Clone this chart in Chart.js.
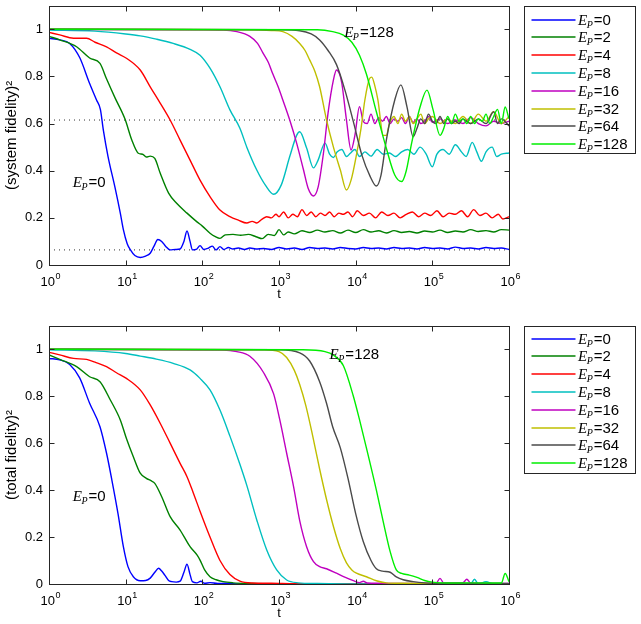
<!DOCTYPE html>
<html>
<head>
<meta charset="utf-8">
<script src="https://cdn.jsdelivr.net/npm/chart.js@4.4.1/dist/chart.umd.min.js"></script>
<style>
  html, body { margin: 0; padding: 0; background: #fff; }
  #wrap { position: relative; width: 641px; height: 624px; }
  canvas { position: absolute; left: 0; }
</style>
</head>
<body>
<div id="wrap">
  <canvas id="sys" width="641" height="312" style="top:0"></canvas>
  <canvas id="tot" width="641" height="312" style="top:312px"></canvas>
</div>
<script>
// values; each point is [log10(t), fidelity^2]
const epValues = [0, 2, 4, 8, 16, 32, 64, 128];
const xTicks = [1, 10, 100, 1e3, 1e4, 1e5, 1e6];
const yTicks = [0, 0.2, 0.4, 0.6, 0.8, 1];
const sysLevels = [0.615, 0.064];

const sysEp0 = [[0,0.962],[0.14,0.955],[0.27,0.94],[0.4,0.88],[0.53,0.77],[0.62,0.7],[0.67,0.66],[0.71,0.57],[0.77,0.46],[0.86,0.33],[0.93,0.22],[0.97,0.15],[1.02,0.09],[1.06,0.065],[1.12,0.04],[1.19,0.032],[1.26,0.038],[1.32,0.05],[1.37,0.08],[1.42,0.108],[1.47,0.1],[1.52,0.08],[1.58,0.064],[1.65,0.066],[1.71,0.068],[1.76,0.1],[1.8,0.144],[1.84,0.1],[1.87,0.064],[1.92,0.066],[1.97,0.082],[2.02,0.066],[2.08,0.072],[2.13,0.08],[2.18,0.064],[2.23,0.078],[2.28,0.066],[2.34,0.074],[2.4,0.068],[2.47,0.072],[2.55,0.066],[2.62,0.072],[2.7,0.068],[2.8,0.07],[2.9,0.066],[3,0.074],[3.1,0.068],[3.2,0.072],[3.3,0.066],[3.4,0.074],[3.5,0.07],[3.6,0.072],[3.7,0.068],[3.8,0.074],[3.9,0.07],[4,0.068],[4.1,0.074],[4.2,0.07],[4.3,0.072],[4.4,0.068],[4.5,0.074],[4.6,0.07],[4.7,0.072],[4.8,0.068],[4.9,0.074],[5,0.07],[5.1,0.072],[5.2,0.068],[5.3,0.076],[5.4,0.07],[5.5,0.072],[5.6,0.068],[5.7,0.074],[5.8,0.07],[5.9,0.072],[6,0.066]];
const sysEp2 = [[0,0.97],[0.14,0.955],[0.36,0.926],[0.53,0.878],[0.665,0.855],[0.75,0.79],[0.86,0.71],[0.99,0.62],[1.08,0.53],[1.165,0.474],[1.22,0.47],[1.27,0.458],[1.32,0.462],[1.38,0.452],[1.45,0.39],[1.56,0.305],[1.665,0.262],[1.8,0.22],[1.93,0.183],[2,0.165],[2.1,0.135],[2.17,0.12],[2.23,0.113],[2.3,0.128],[2.4,0.13],[2.5,0.126],[2.6,0.13],[2.7,0.12],[2.78,0.112],[2.86,0.13],[2.94,0.125],[3,0.15],[3.06,0.128],[3.12,0.14],[3.2,0.132],[3.3,0.145],[3.4,0.138],[3.5,0.148],[3.6,0.14],[3.7,0.146],[3.8,0.136],[3.9,0.148],[4,0.138],[4.1,0.15],[4.2,0.14],[4.3,0.145],[4.4,0.136],[4.5,0.146],[4.6,0.138],[4.7,0.142],[4.8,0.136],[4.9,0.144],[5,0.14],[5.1,0.148],[5.2,0.138],[5.3,0.144],[5.4,0.14],[5.5,0.15],[5.6,0.142],[5.7,0.146],[5.8,0.14],[5.9,0.15],[6,0.148]];
const sysEp4 = [[0,0.987],[0.14,0.976],[0.32,0.962],[0.49,0.962],[0.6,0.945],[0.75,0.925],[0.88,0.9],[1.01,0.877],[1.19,0.827],[1.32,0.756],[1.45,0.687],[1.58,0.615],[1.71,0.53],[1.84,0.445],[1.97,0.36],[2.1,0.29],[2.23,0.233],[2.36,0.205],[2.47,0.19],[2.58,0.178],[2.65,0.185],[2.71,0.178],[2.78,0.195],[2.84,0.205],[2.9,0.2],[2.96,0.215],[3,0.205],[3.06,0.225],[3.12,0.2],[3.18,0.215],[3.24,0.205],[3.3,0.235],[3.36,0.21],[3.42,0.225],[3.48,0.205],[3.54,0.22],[3.6,0.21],[3.66,0.225],[3.72,0.205],[3.78,0.22],[3.84,0.215],[3.9,0.225],[3.96,0.205],[4.02,0.23],[4.1,0.21],[4.18,0.22],[4.26,0.2],[4.34,0.225],[4.42,0.21],[4.5,0.22],[4.58,0.2],[4.66,0.215],[4.74,0.225],[4.82,0.205],[4.9,0.22],[4.98,0.21],[5.06,0.23],[5.14,0.205],[5.22,0.22],[5.3,0.215],[5.38,0.23],[5.46,0.205],[5.54,0.235],[5.62,0.21],[5.7,0.22],[5.78,0.2],[5.86,0.215],[5.92,0.195],[6,0.205]];
const sysEp8 = [[0,0.997],[0.6,0.992],[1,0.98],[1.19,0.972],[1.4,0.958],[1.62,0.94],[1.84,0.915],[1.97,0.89],[2.1,0.835],[2.23,0.756],[2.36,0.658],[2.49,0.58],[2.58,0.5],[2.71,0.403],[2.82,0.34],[2.93,0.3],[3.03,0.34],[3.14,0.46],[3.23,0.55],[3.27,0.565],[3.36,0.496],[3.45,0.412],[3.51,0.445],[3.6,0.517],[3.66,0.47],[3.71,0.456],[3.76,0.48],[3.82,0.49],[3.88,0.46],[3.93,0.474],[3.99,0.49],[4.05,0.46],[4.12,0.48],[4.2,0.462],[4.28,0.49],[4.36,0.47],[4.44,0.475],[4.52,0.46],[4.6,0.48],[4.68,0.49],[4.76,0.47],[4.84,0.5],[4.92,0.47],[5,0.417],[5.06,0.47],[5.14,0.49],[5.22,0.47],[5.3,0.51],[5.38,0.48],[5.44,0.46],[5.52,0.52],[5.58,0.48],[5.64,0.44],[5.7,0.48],[5.78,0.5],[5.84,0.46],[5.9,0.47],[6,0.475]];
const sysEp16 = [[0,1],[2,0.998],[2.27,0.997],[2.45,0.99],[2.62,0.97],[2.72,0.94],[2.79,0.9],[2.86,0.86],[2.92,0.81],[2.99,0.755],[3.05,0.7],[3.14,0.615],[3.23,0.517],[3.32,0.403],[3.38,0.326],[3.45,0.293],[3.51,0.33],[3.58,0.475],[3.64,0.645],[3.71,0.785],[3.75,0.827],[3.79,0.81],[3.82,0.77],[3.88,0.615],[3.94,0.488],[3.99,0.55],[4.05,0.672],[4.1,0.608],[4.15,0.6],[4.2,0.64],[4.25,0.6],[4.3,0.625],[4.35,0.61],[4.4,0.63],[4.45,0.6],[4.5,0.62],[4.55,0.61],[4.6,0.625],[4.65,0.6],[4.7,0.63],[4.75,0.605],[4.8,0.62],[4.85,0.6],[4.9,0.61],[4.95,0.63],[5,0.605],[5.1,0.62],[5.2,0.6],[5.3,0.615],[5.4,0.6],[5.5,0.625],[5.6,0.6],[5.7,0.59],[5.8,0.61],[5.9,0.6],[6,0.61]];
const sysEp32 = [[0,1],[2.6,0.998],[2.9,0.995],[3.05,0.99],[3.17,0.97],[3.27,0.94],[3.34,0.91],[3.4,0.87],[3.47,0.82],[3.53,0.756],[3.62,0.615],[3.71,0.5],[3.8,0.403],[3.88,0.318],[3.94,0.36],[4.01,0.467],[4.07,0.58],[4.12,0.7],[4.18,0.79],[4.21,0.797],[4.25,0.76],[4.29,0.7],[4.36,0.55],[4.4,0.55],[4.44,0.6],[4.5,0.63],[4.55,0.6],[4.6,0.64],[4.65,0.61],[4.7,0.63],[4.75,0.6],[4.8,0.62],[4.85,0.64],[4.9,0.6],[4.95,0.62],[5,0.63],[5.1,0.6],[5.2,0.62],[5.3,0.6],[5.4,0.63],[5.5,0.6],[5.6,0.64],[5.7,0.61],[5.8,0.65],[5.9,0.6],[6,0.63]];
const sysEp64 = [[0,1],[3,0.998],[3.27,0.994],[3.42,0.98],[3.53,0.955],[3.64,0.91],[3.75,0.85],[3.86,0.742],[3.97,0.608],[4.08,0.467],[4.19,0.375],[4.27,0.335],[4.33,0.38],[4.4,0.53],[4.51,0.7],[4.59,0.764],[4.67,0.67],[4.75,0.544],[4.8,0.58],[4.85,0.62],[4.9,0.6],[4.95,0.64],[5,0.61],[5.05,0.6],[5.1,0.63],[5.15,0.6],[5.2,0.62],[5.25,0.6],[5.3,0.61],[5.35,0.6],[5.4,0.62],[5.5,0.6],[5.6,0.62],[5.7,0.6],[5.8,0.65],[5.85,0.6],[5.9,0.62],[6,0.59]];
const sysEp128 = [[0,1],[3.5,0.998],[3.7,0.99],[3.84,0.975],[3.95,0.945],[4.05,0.89],[4.14,0.81],[4.27,0.65],[4.4,0.495],[4.51,0.382],[4.6,0.354],[4.66,0.4],[4.73,0.517],[4.84,0.67],[4.93,0.742],[5.01,0.658],[5.1,0.55],[5.15,0.58],[5.2,0.63],[5.25,0.6],[5.3,0.64],[5.35,0.61],[5.4,0.62],[5.45,0.6],[5.5,0.63],[5.55,0.6],[5.6,0.62],[5.65,0.61],[5.7,0.64],[5.75,0.6],[5.8,0.63],[5.85,0.66],[5.9,0.6],[5.95,0.67],[6,0.62]];

const totEp0 = [[0,0.961],[0.14,0.955],[0.27,0.935],[0.4,0.878],[0.53,0.77],[0.665,0.67],[0.75,0.558],[0.82,0.443],[0.9,0.3],[0.97,0.159],[1.03,0.074],[1.1,0.031],[1.19,0.014],[1.26,0.015],[1.32,0.025],[1.38,0.05],[1.43,0.067],[1.47,0.055],[1.51,0.038],[1.56,0.015],[1.6,0.01],[1.66,0.008],[1.71,0.012],[1.76,0.05],[1.8,0.084],[1.84,0.04],[1.87,0.01],[1.93,0.005],[1.98,0.012],[2.03,0.003],[2.1,0.006],[2.2,0.002],[2.3,0.003],[2.5,0],[6,0]];
const totEp2 = [[0,0.976],[0.14,0.957],[0.36,0.926],[0.53,0.883],[0.665,0.862],[0.8,0.784],[0.93,0.699],[1.01,0.62],[1.1,0.542],[1.19,0.472],[1.27,0.45],[1.33,0.44],[1.38,0.429],[1.47,0.372],[1.58,0.287],[1.71,0.23],[1.84,0.159],[1.93,0.124],[1.97,0.102],[2.03,0.06],[2.1,0.031],[2.18,0.018],[2.27,0.01],[2.4,0.005],[2.6,0.002],[3,0],[6,0]];
const totEp4 = [[0,0.987],[0.14,0.976],[0.32,0.961],[0.49,0.957],[0.6,0.945],[0.75,0.926],[0.88,0.9],[1.01,0.876],[1.19,0.827],[1.32,0.763],[1.45,0.685],[1.58,0.6],[1.71,0.514],[1.8,0.457],[1.88,0.39],[1.97,0.31],[2.1,0.2],[2.23,0.1],[2.36,0.04],[2.49,0.012],[2.65,0.004],[2.9,0.003],[3.2,0.001],[6,0]];
const totEp8 = [[0,0.998],[0.6,0.993],[1,0.982],[1.19,0.971],[1.4,0.958],[1.62,0.94],[1.84,0.912],[1.97,0.876],[2.1,0.827],[2.23,0.741],[2.36,0.63],[2.49,0.51],[2.58,0.42],[2.71,0.273],[2.84,0.145],[2.97,0.06],[3.1,0.017],[3.25,0.005],[3.5,0.002],[4,0],[5.5,0],[5.55,0.02],[5.6,0],[5.7,0.01],[5.8,0],[6,0]];
const totEp16 = [[0,1],[2.27,0.997],[2.45,0.99],[2.62,0.97],[2.8,0.9],[2.93,0.81],[3.01,0.7],[3.1,0.557],[3.19,0.415],[3.27,0.27],[3.36,0.159],[3.45,0.095],[3.53,0.074],[3.62,0.065],[3.75,0.046],[3.85,0.03],[3.97,0.014],[4.05,0.006],[4.1,0.012],[4.15,0.004],[4.3,0.003],[4.6,0.002],[5.05,0.004],[5.1,0.024],[5.15,0.004],[5.4,0.006],[5.45,0.02],[5.5,0.004],[6,0.002]];
const totEp32 = [[0,1],[2.8,0.998],[3,0.99],[3.1,0.965],[3.2,0.91],[3.27,0.85],[3.35,0.76],[3.44,0.63],[3.53,0.49],[3.62,0.36],[3.71,0.245],[3.8,0.15],[3.88,0.09],[3.95,0.06],[4.01,0.046],[4.14,0.031],[4.27,0.014],[4.4,0.005],[4.6,0.003],[5,0.002],[6,0.001]];
const totEp64 = [[0,1],[3,0.998],[3.27,0.985],[3.4,0.95],[3.53,0.862],[3.62,0.77],[3.7,0.67],[3.8,0.58],[3.9,0.45],[4,0.3],[4.1,0.18],[4.2,0.1],[4.27,0.065],[4.35,0.055],[4.45,0.05],[4.53,0.03],[4.62,0.018],[4.75,0.01],[4.9,0.005],[5.2,0.003],[6,0.002]];
const totEp128 = [[0,1],[3.3,0.998],[3.6,0.99],[3.71,0.975],[3.84,0.93],[3.97,0.8],[4.05,0.7],[4.14,0.58],[4.27,0.4],[4.36,0.265],[4.45,0.138],[4.53,0.06],[4.6,0.045],[4.7,0.038],[4.8,0.028],[4.9,0.015],[5,0.008],[5.2,0.004],[5.5,0.005],[5.9,0.004],[5.95,0.045],[6,0.01]];

const colors = ['#0000ff', '#008000', '#ff0000', '#00bfbf', '#bf00bf', '#bfbf00', '#4a4a4a', '#00ee00'];
const SANS = '"Liberation Sans", Arial, sans-serif';
const SERIF = '"Liberation Serif", "Times New Roman", serif';

function drawEp(ctx, x, y, val) {
  ctx.fillStyle = '#000';
  ctx.textAlign = 'left';
  ctx.textBaseline = 'alphabetic';
  ctx.font = 'italic 15px ' + SERIF;
  ctx.fillText('E', x, y);
  let w = ctx.measureText('E').width;
  ctx.font = 'italic 10px ' + SERIF;
  ctx.fillText('P', x + w - 0.5, y + 3);
  w += ctx.measureText('P').width;
  ctx.font = '15px ' + SANS;
  ctx.fillText('=' + val, x + w + 0.5, y);
}

// MATLAB-like box, inward ticks, decade labels, notes and boxed legend
const matlabFrame = {
  id: 'matlabFrame',
  afterDatasetsDraw(chart, args, opts) {
    const { ctx, chartArea: a, scales: { x, y } } = chart;
    const L = Math.round(a.left) + 0.5, R = Math.round(a.right) + 0.5;
    const T = Math.round(a.top) + 0.5, B = Math.round(a.bottom) + 0.5;
    ctx.save();
    ctx.strokeStyle = '#262626';
    ctx.lineWidth = 1;
    ctx.strokeRect(L, T, R - L, B - T);
    ctx.beginPath();
    x.ticks.forEach(t => {
      const px = Math.round(x.getPixelForValue(t.value)) + 0.5;
      ctx.moveTo(px, B); ctx.lineTo(px, B - 5);
      ctx.moveTo(px, T); ctx.lineTo(px, T + 5);
    });
    y.ticks.forEach(t => {
      const py = Math.round(y.getPixelForValue(t.value)) + 0.5;
      ctx.moveTo(L, py); ctx.lineTo(L + 5, py);
      ctx.moveTo(R, py); ctx.lineTo(R - 5, py);
    });
    ctx.stroke();

    // x tick labels: 10 with superscript exponent
    ctx.fillStyle = '#000';
    ctx.textBaseline = 'alphabetic';
    x.ticks.forEach(t => {
      const px = x.getPixelForValue(t.value);
      const k = String(Math.round(Math.log10(t.value)));
      ctx.font = '13px ' + SANS;
      ctx.textAlign = 'right';
      ctx.fillText('10', px + 6, B + opts.labelDrop);
      ctx.font = '9px ' + SANS;
      ctx.textAlign = 'left';
      ctx.fillText(k, px + 6.5, B + opts.labelDrop - 7);
    });
    ctx.font = '13px ' + SANS;
    ctx.textAlign = 'center';
    ctx.fillText('t', x.getPixelForValue(1e3), B + opts.titleDrop);

    // in-plot notes
    opts.notes.forEach(n => {
      drawEp(ctx, x.getPixelForValue(10 ** n.e), y.getPixelForValue(n.v), n.val);
    });

    // legend
    const lx = Math.round(a.right) + 15.5, ly = T, lw = 111, lh = 147;
    ctx.fillStyle = '#fff';
    ctx.fillRect(lx, ly, lw, lh);
    ctx.strokeStyle = '#262626';
    ctx.lineWidth = 1;
    ctx.strokeRect(lx, ly, lw, lh);
    chart.data.datasets.filter(d => d.inLegend).forEach((d, i) => {
      const ry = Math.round(ly + opts.legendFirst + i * 17.8);
      ctx.strokeStyle = d.borderColor;
      ctx.lineWidth = 1.6;
      ctx.beginPath();
      ctx.moveTo(lx + 7, ry);
      ctx.lineTo(lx + 51, ry);
      ctx.stroke();
      drawEp(ctx, lx + 53.5, ry + 5, d.epValue);
    });
    ctx.restore();
  }
};

function makeChart(id, series, levels, yTitle, box, notes) {
  const datasets = series.map((pts, i) => ({
    label: 'E_P=' + epValues[i],
    epValue: epValues[i],
    inLegend: true,
    data: pts.map(([e, v]) => ({ x: 10 ** e, y: v })),
    borderColor: colors[i],
    borderWidth: 1.4,
    pointRadius: 0,
    cubicInterpolationMode: 'monotone',
    order: series.length - i
  }));
  levels.forEach(v => datasets.push({
    data: [{ x: 1, y: v }, { x: 1e6, y: v }],
    borderColor: '#333',
    borderWidth: 1,
    borderDash: [1, 4],
    pointRadius: 0,
    order: 20
  }));

  return new Chart(document.getElementById(id), {
    type: 'line',
    data: { datasets },
    options: {
      responsive: false,
      animation: false,
      devicePixelRatio: 1,
      layout: { padding: { left: 0, right: 132, top: box.top, bottom: 0 } },
      plugins: {
        legend: { display: false },
        tooltip: { enabled: false },
        matlabFrame: { notes, labelDrop: 20, titleDrop: 32, legendFirst: box.legendFirst }
      },
      scales: {
        x: {
          type: 'logarithmic',
          min: 1,
          max: 1e6,
          afterBuildTicks: s => { s.ticks = xTicks.map(v => ({ value: v })); },
          afterFit: s => { s.height = box.xh; s.paddingLeft = 0; s.paddingRight = 0; },
          grid: { display: false, drawTicks: false },
          border: { display: false },
          ticks: { display: false }
        },
        y: {
          min: 0,
          max: 1.1,
          afterBuildTicks: s => { s.ticks = yTicks.map(v => ({ value: v })); },
          afterFit: s => { s.width = 49; s.paddingTop = 0; s.paddingBottom = 0; },
          grid: { display: false, drawTicks: false },
          border: { display: false },
          ticks: { padding: 6, color: '#000', font: { family: SANS, size: 13 }, callback: v => String(v) },
          title: { display: true, text: yTitle, color: '#000', font: { family: SANS, size: 15 }, padding: { top: 3, bottom: 0 } }
        }
      }
    },
    plugins: [matlabFrame]
  });
}

makeChart('sys',
  [sysEp0, sysEp2, sysEp4, sysEp8, sysEp16, sysEp32, sysEp64, sysEp128],
  sysLevels, '(system fidelity)\u00b2',
  { top: 5.7, xh: 47, legendFirst: 13 },
  [{ e: 0.31, v: 0.332, val: 0 }, { e: 3.85, v: 0.969, val: 128 }]);

makeChart('tot',
  [totEp0, totEp2, totEp4, totEp8, totEp16, totEp32, totEp64, totEp128],
  [], '(total fidelity)\u00b2',
  { top: 13.8, xh: 40, legendFirst: 12 },
  [{ e: 0.31, v: 0.355, val: 0 }, { e: 3.66, v: 0.957, val: 128 }]);
</script>
</body>
</html>
